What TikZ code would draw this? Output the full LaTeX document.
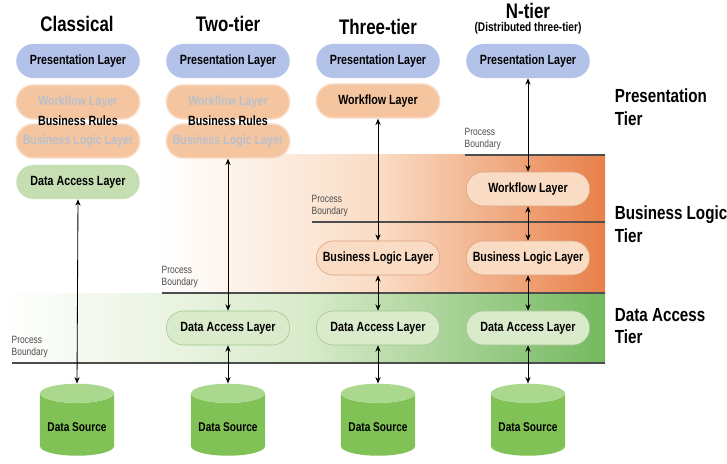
\documentclass[tikz,border=0pt]{standalone}
\usepackage{fontspec}
\setmainfont{Liberation Sans}[FakeStretch=0.8]
\usepackage{tikz}
\usetikzlibrary{arrows.meta, shapes.misc, shapes.geometric}

\definecolor{presblue}{HTML}{B3C2E8}
\definecolor{wforange}{HTML}{F5C5A0}
\definecolor{wfedge}{HTML}{FADCC6}
\definecolor{dalgreen}{HTML}{C6DFB2}
\definecolor{paleorange}{HTML}{FADBC3}
\definecolor{paleoredge}{HTML}{D9A27E}
\definecolor{palegreen}{HTML}{D9EBCB}
\definecolor{palegredge}{HTML}{A3C48E}
\definecolor{tierorange}{HTML}{E8804A}
\definecolor{tiergreen}{HTML}{74B95F}
\definecolor{dsgreen}{HTML}{80C255}
\definecolor{dstop}{HTML}{AAD88C}
\definecolor{boundary}{HTML}{4D4D4D}
\definecolor{faded}{HTML}{B9C0CD}

\begin{document}
\begin{tikzpicture}[
			x=0.025cm, y=-0.025cm,
			title/.style={
					font=\fontsize{15}{17}\selectfont\bfseries
				},
			tier/.style={
					anchor=west,
					align=left,
					font=\fontsize{13.5}{16}\selectfont\bfseries
				},
			layer/.style={
					rounded rectangle,
					minimum width=3.32cm,
					minimum height=0.85cm,
					align=center,
					font=\fontsize{9.5}{11}\selectfont\bfseries
				},
			pres/.style={layer, fill=presblue},
			flow/.style={layer, fill=wforange, draw=wfedge, line width=1pt},
			dal/.style={layer, fill=dalgreen},
			inorange/.style={layer, fill=paleorange, draw=paleoredge, line width=0.4pt},
			ingreen/.style={layer, fill=palegreen, draw=palegredge, line width=0.4pt},
			source/.style={
					cylinder,
					shape border rotate=90,
					aspect=0.28,
					minimum width=1.85cm,
					minimum height=1.8cm,
					cylinder uses custom fill,
					cylinder body fill=dsgreen,
					cylinder end fill=dstop,
					font=\fontsize{9}{10}\selectfont\bfseries
				},
			bound/.style={
					anchor=south west,
					align=left,
					inner sep=1pt,
					text=boundary,
					font=\fontsize{7.5}{8.5}\selectfont
				},
			link/.style={
			{Stealth[length=1.6mm,width=1.3mm]}-{Stealth[length=1.6mm,width=1.3mm]},
			line width=0.6pt
			}
			]
			\useasboundingbox (0,0) rectangle (727,464);

			% ================= 背景层带 =================
			\shade[left color=white, right color=tierorange, middle color=paleorange]
			(160,155) rectangle (605,293);
			\shade[left color=white, right color=tiergreen, middle color=palegreen]
			(0,293) rectangle (605,363);

			% 进程边界
			\draw[boundary, line width=2pt] (465,155) -- (605,155);
			\draw[boundary, line width=2pt] (312,222) -- (605,222);
			\draw[boundary, line width=2pt] (162,293) -- (605,293);
			\draw[boundary, line width=2pt] (12,363) -- (605,363);
			\node[bound] (pb1) at (463,151) {Process\\Boundary};
			\node[bound] (pb2) at (310,218) {Process\\Boundary};
			\node[bound] (pb3) at (160,289) {Process\\Boundary};
			\node[bound] (pb4) at (10,359) {Process\\Boundary};

			% ================= 标题 =================
			\node[title] (tClassical) at (77,24) {Classical};
			\node[title] (tTwo) at (228,24) {Two-tier};
			\node[title] (tThree) at (378,27) {Three-tier};
			\node[title] (tN) at (528,11) {N-tier};
			\node[font=\fontsize{9}{10}\selectfont\bfseries] (tNsub) at (528,28) {(Distributed three-tier)};

			% ================= Classical =================
			\node[pres] (cPres) at (78,61) {Presentation Layer};
			\node[flow] (cWork) at (78,102) {\textcolor{faded}{Workflow Layer}};
			\node[flow] (cBL) at (78,141) {\textcolor{faded}{Business Logic Layer}};
			\node[font=\fontsize{9.5}{11}\selectfont\bfseries] (cRules) at (78,121) {Business Rules};
			\node[dal] (cDAL) at (78,182) {Data Access Layer};
			\node[source] (cDS) at (77,427) {Data Source};

			% ================= Two-tier =================
			\node[pres] (wPres) at (228,61) {Presentation Layer};
			\node[flow] (wWork) at (228,102) {\textcolor{faded}{Workflow Layer}};
			\node[flow] (wBL) at (228,141) {\textcolor{faded}{Business Logic Layer}};
			\node[font=\fontsize{9.5}{11}\selectfont\bfseries] (wRules) at (228,121) {Business Rules};
			\node[ingreen] (wDAL) at (228,328) {Data Access Layer};
			\node[source] (wDS) at (228,427) {Data Source};

			% ================= Three-tier =================
			\node[pres] (hPres) at (378,61) {Presentation Layer};
			\node[flow] (hWork) at (378,101) {Workflow Layer};
			\node[inorange] (hBL) at (378,258) {Business Logic Layer};
			\node[ingreen] (hDAL) at (378,328) {Data Access Layer};
			\node[source] (hDS) at (378,427) {Data Source};

			% ================= N-tier =================
			\node[pres] (nPres) at (528,61) {Presentation Layer};
			\node[inorange] (nWork) at (528,189) {Workflow Layer};
			\node[inorange] (nBL) at (528,258) {Business Logic Layer};
			\node[ingreen] (nDAL) at (528,328) {Data Access Layer};
			\node[source] (nDS) at (528,427) {Data Source};

			% ================= 连线 =================
			\draw[link] (cDAL.south) -- (cDS.top);
			\draw[link] (wBL.south) -- (wDAL.north);
			\draw[link] (wDAL.south) -- (wDS.top);
			\draw[link] (hWork.south) -- (hBL.north);
			\draw[link] (hBL.south) -- (hDAL.north);
			\draw[link] (hDAL.south) -- (hDS.top);
			\draw[link] (nPres.south) -- (nWork.north);
			\draw[link] (nWork.south) -- (nBL.north);
			\draw[link] (nBL.south) -- (nDAL.north);
			\draw[link] (nDAL.south) -- (nDS.top);

			% ================= 层级标签 =================
			\node[tier] (presTier) at (610,107) {Presentation\\Tier};
			\node[tier] (busTier) at (610,224) {Business Logic\\Tier};
			\node[tier] (dataTier) at (610,326) {Data Access\\Tier};

		\end{tikzpicture}
\end{document}
